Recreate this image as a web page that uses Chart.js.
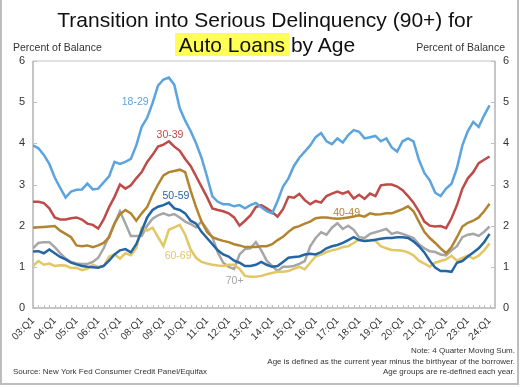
<!DOCTYPE html>
<html>
<head>
<meta charset="utf-8">
<script src="https://cdn.jsdelivr.net/npm/chart.js@4/dist/chart.umd.min.js"></script>
<style>
  html, body { margin: 0; padding: 0; background: #fff; }
  body { width: 528px; height: 387px; position: relative; overflow: hidden; font-family: "Liberation Sans", Arial, sans-serif; color: #222; }
  #frame { position: absolute; left: 0; top: -4px; width: 519px; height: 389px; border: 2px solid #BDBDBD; border-top: none; box-sizing: border-box; }
  canvas { position: absolute; left: 0; top: 0; }
  .t { position: absolute; white-space: nowrap; }
  .title { left: 0; width: 530px; text-align: center; font-size: 21px; line-height: 24px; color: #111; }
  .hl { background: #FFFF55; padding: 0 4px; margin: 0 -4px 0 0; }
  .axt { font-size: 10.5px; color: #333; }
  .note { font-size: 8px; color: #333; }
</style>
</head>
<body>
<div id="frame"></div>
<canvas id="c" width="528" height="387"></canvas>
<div class="t title" style="top:8px;">Transition into Serious Delinquency (90+) for</div>
<div class="t title" style="top:33px;"><span class="hl">Auto Loans</span> by Age</div>
<div class="t axt" style="left:13px; top:41px;">Percent of Balance</div>
<div class="t axt" style="right:23px; top:41px;">Percent of Balance</div>
<div class="t note" style="right:13px; top:346px;">Note: 4 Quarter Moving Sum.</div>
<div class="t note" style="right:13px; top:357px;">Age is defined as the current year minus the birthyear of the borrower.</div>
<div class="t note" style="right:13px; top:367px;">Age groups are re-defined each year.</div>
<div class="t note" style="left:13px; top:367px;">Source: New York Fed Consumer Credit Panel/Equifax</div>
<script>
// ---- data ----
const tickLabels = ['03:Q1','04:Q1','05:Q1','06:Q1','07:Q1','08:Q1','09:Q1','10:Q1','11:Q1','12:Q1','13:Q1',
  '14:Q1','15:Q1','16:Q1','17:Q1','18:Q1','19:Q1','20:Q1','21:Q1','22:Q1','23:Q1','24:Q1'];
const ageGroups = ['18-29','30-39','40-49','50-59','60-69','70+'];
const yTicks = [0,1,2,3,4,5,6];

const age18_29 = [3.95,3.88,3.72,3.5,3.17,2.92,2.68,2.83,2.87,2.88, 3.02,2.88,2.9,3.05,3.2,3.55,3.5,3.55,3.62,3.95,
  4.4,4.62,4.98,5.4,5.55,5.6,5.42,4.85,4.55,4.3, 4.0,3.65,3.2,2.71,2.58,2.52,2.52,2.47,2.5,2.42,
  2.5,2.55,2.45,2.35,2.3,2.6,2.95,3.15,3.45,3.65, 3.8,3.95,4.15,4.25,4.05,3.98,4.12,4.02,4.2,4.32,
  4.28,4.12,4.15,4.18,4.05,4.12,3.9,3.8,4.05,4.12, 4.05,3.6,3.28,3.1,2.8,2.72,2.9,3.02,3.4,3.95,
  4.3,4.52,4.4,4.68,4.92];
const age30_39 = [2.58,2.58,2.55,2.42,2.2,2.15,2.15,2.18,2.2,2.15, 2.05,2.02,1.93,2.15,2.45,2.7,3.0,2.9,2.98,3.15,
  3.3,3.55,3.72,3.92,3.97,4.05,3.92,3.82,3.62,3.45, 3.2,2.95,2.7,2.42,2.38,2.35,2.3,2.2,2.0,2.12,
  2.25,2.45,2.5,2.42,2.33,2.22,2.4,2.7,2.68,2.77, 2.62,2.52,2.6,2.56,2.72,2.78,2.83,2.78,2.83,2.66,
  2.75,2.65,2.78,2.72,2.98,3.0,3.0,2.95,2.86,2.72, 2.56,2.35,2.1,2.0,1.98,1.99,1.94,2.18,2.5,2.9,
  3.15,3.3,3.52,3.6,3.68];
const age40_49 = [1.95,1.96,1.97,1.98,1.99,1.88,1.8,1.72,1.52,1.5, 1.52,1.48,1.52,1.58,1.72,2.05,2.28,2.38,2.3,2.12,
  2.3,2.45,2.75,3.0,3.22,3.3,3.33,3.36,3.3,2.85, 2.45,2.1,1.85,1.72,1.67,1.63,1.6,1.55,1.52,1.48,
  1.48,1.48,1.5,1.5,1.55,1.65,1.73,1.85,1.95,1.99, 2.05,2.1,2.18,2.2,2.2,2.18,2.17,2.18,2.2,2.22,
  2.25,2.22,2.3,2.27,2.28,2.3,2.3,2.35,2.4,2.47, 2.35,2.1,1.85,1.7,1.58,1.45,1.33,1.48,1.72,1.98,
  2.07,2.12,2.2,2.35,2.53];
const age50_59 = [1.37,1.38,1.33,1.42,1.33,1.24,1.18,1.1,1.06,1.02, 1.0,0.99,0.98,1.02,1.15,1.3,1.4,1.43,1.35,1.55,
  1.87,2.2,2.38,2.46,2.5,2.56,2.42,2.38,2.3,2.12, 2.05,1.85,1.7,1.55,1.4,1.3,1.25,1.15,1.1,1.02,
  1.02,1.05,1.12,1.05,1.0,1.02,1.12,1.22,1.24,1.25, 1.3,1.32,1.3,1.36,1.45,1.5,1.53,1.58,1.65,1.72,
  1.65,1.63,1.64,1.66,1.68,1.7,1.7,1.72,1.72,1.7, 1.62,1.5,1.35,1.15,0.98,0.9,0.9,0.88,1.1,1.14,
  1.25,1.35,1.45,1.6,1.8];
const age60_69 = [1.02,1.14,1.05,1.08,1.02,1.04,1.03,0.97,0.98,0.92, 0.95,1.05,1.0,1.02,1.25,1.3,1.2,1.33,1.28,1.45,
  1.95,1.88,1.95,1.72,1.5,1.9,1.96,2.02,1.78,1.42, 1.22,1.12,1.08,1.05,1.03,1.02,1.05,1.05,0.95,0.78,
  0.76,0.76,0.78,0.82,0.85,0.88,0.88,0.9,0.95,1.0, 0.94,1.1,1.25,1.3,1.36,1.4,1.43,1.48,1.5,1.58,
  1.67,1.63,1.65,1.63,1.5,1.45,1.41,1.4,1.39,1.35, 1.28,1.15,1.08,1.0,1.1,1.14,1.18,1.27,1.15,1.22,
  1.27,1.2,1.27,1.4,1.57];
const age70plus = [1.45,1.58,1.6,1.6,1.48,1.33,1.2,1.12,1.08,1.07, 1.07,1.12,1.22,1.45,1.75,2.05,2.35,2.05,1.75,1.75,
  1.75,2.0,2.17,2.25,2.3,2.25,2.28,2.2,2.1,2.04, 1.96,2.1,1.92,1.72,1.35,1.1,1.0,0.95,1.3,1.43,
  1.45,1.6,1.4,1.15,1.02,0.9,1.0,1.0,1.02,1.07, 1.14,1.5,1.7,1.84,1.78,1.95,2.06,1.92,2.0,1.9,
  1.72,1.7,1.8,1.84,1.88,1.92,1.8,1.84,1.8,1.75, 1.7,1.55,1.45,1.38,1.36,1.3,1.28,1.4,1.5,1.72,
  1.78,1.8,1.75,1.85,1.98];

// ---- styling (not data) ----
const colors = ['#5BA4DE','#BE4B48','#B3842E','#2465A6','#E2C765','#A6A6A6'];
const labelAnchors = [[18.8,5.0],[25.2,4.2],[57.7,2.3],[26.3,2.71],[26.7,1.26],[37.1,0.66]]; // [quarter index, value]
const series = [age18_29, age30_39, age40_49, age50_59, age60_69, age70plus];

const datasets = series.map((arr, k) => ({
  label: ageGroups[k],
  data: arr.map((v, i) => ({x: i, y: v})),
  borderColor: colors[k],
  borderWidth: 2.5,
  pointRadius: 0,
  tension: 0,
  fill: false,
  yAxisID: 'y'
}));

const decor = {
  id: 'decor',
  beforeDatasetsDraw(chart) {
    const {ctx, chartArea: a, scales} = chart;
    ctx.save();
    ctx.strokeStyle = '#D9D9D9';
    ctx.lineWidth = 1.5;
    ctx.strokeRect(a.left, a.top, a.right - a.left, a.bottom - a.top);
    ctx.strokeStyle = '#BFBFBF';
    ctx.lineWidth = 1.5;
    ctx.beginPath();
    ctx.moveTo(a.left, a.top); ctx.lineTo(a.left, a.bottom); ctx.lineTo(a.right, a.bottom); ctx.lineTo(a.right, a.top);
    ctx.stroke();
    ctx.lineWidth = 1;
    ctx.beginPath();
    yTicks.forEach(v => {
      const y = Math.round(scales.y.getPixelForValue(v)) + 0.5;
      ctx.moveTo(a.left, y); ctx.lineTo(a.left + 4, y);
      ctx.moveTo(a.right, y); ctx.lineTo(a.right - 4, y);
    });
    for (let i = 0; i < age18_29.length; i++) {
      const x = Math.round(scales.x.getPixelForValue(i)) + 0.5;
      ctx.moveTo(x, a.bottom); ctx.lineTo(x, a.bottom - 3);
    }
    ctx.stroke();
    ctx.restore();
  },
  afterDatasetsDraw(chart) {
    const {ctx, scales} = chart;
    ctx.save();
    ctx.font = '10.5px "Liberation Sans", Arial, sans-serif';
    ctx.textAlign = 'center';
    ctx.textBaseline = 'middle';
    ageGroups.forEach((name, k) => {
      const [xi, yv] = labelAnchors[k];
      ctx.fillStyle = colors[k];
      ctx.fillText(name, scales.x.getPixelForValue(xi), scales.y.getPixelForValue(yv));
    });
    ctx.restore();
  }
};

const tickFont = {family: '"Liberation Sans", Arial, sans-serif', size: 11};
new Chart(document.getElementById('c'), {
  type: 'line',
  data: {datasets},
  options: {
    responsive: false,
    animation: false,
    plugins: {legend: {display: false}, tooltip: {enabled: false}},
    layout: {padding: {top: 61, left: 0, right: 0, bottom: 0}},
    scales: {
      x: {
        type: 'linear', min: 0, max: 85,
        grid: {display: false, drawTicks: false},
        border: {display: false},
        afterBuildTicks: s => { s.ticks = tickLabels.map((_, k) => ({value: k * 4})); },
        afterFit: s => { s.height = 79; },
        ticks: {
          autoSkip: false, maxRotation: 45, minRotation: 45, padding: 7,
          color: '#333', font: {family: tickFont.family, size: 10},
          callback: v => tickLabels[v / 4]
        }
      },
      y: {
        position: 'left', min: 0, max: 6,
        grid: {display: false, drawTicks: false},
        border: {display: false},
        afterBuildTicks: s => { s.ticks = yTicks.map(v => ({value: v})); },
        afterFit: s => { s.width = 33; },
        ticks: {padding: 8, color: '#333', font: tickFont}
      },
      y2: {
        position: 'right', min: 0, max: 6,
        grid: {display: false, drawTicks: false},
        border: {display: false},
        afterBuildTicks: s => { s.ticks = yTicks.map(v => ({value: v})); },
        afterFit: s => { s.width = 33; },
        ticks: {padding: 8, color: '#333', font: tickFont}
      }
    }
  },
  plugins: [decor]
});
</script>
</body>
</html>
